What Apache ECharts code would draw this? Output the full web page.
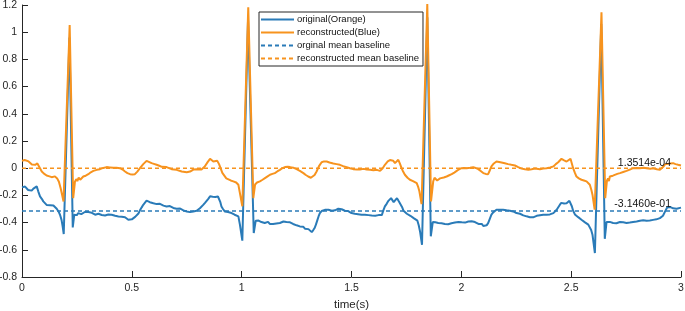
<!DOCTYPE html>
<html>
<head>
<meta charset="utf-8">
<script src="https://cdn.jsdelivr.net/npm/echarts@6/dist/echarts.min.js"></script>
<style>
  html, body { margin: 0; padding: 0; background: #fff; }
  #main { width: 685px; height: 311px; }
</style>
</head>
<body>
<div id="main"></div>
<script type="text/javascript">
  // original signal (drawn blue), [time, value]
  var originalPts = [
    [0, -0.141], [0.008, -0.15], [0.014, -0.135], [0.02, -0.148], [0.028, -0.16], [0.036, -0.152], [0.044, -0.165], [0.052, -0.15],
    [0.06, -0.142], [0.067, -0.134], [0.074, -0.17], [0.082, -0.207], [0.09, -0.225], [0.097, -0.244], [0.105, -0.255], [0.112, -0.27],
    [0.12, -0.281], [0.128, -0.272], [0.135, -0.28], [0.143, -0.274], [0.15, -0.288], [0.158, -0.298], [0.166, -0.318], [0.173, -0.342],
    [0.18, -0.38], [0.185, -0.428], [0.19, -0.484],
    [0.216, 0.96],
    [0.231, -0.435], [0.238, -0.342], [0.244, -0.33], [0.25, -0.345], [0.256, -0.33], [0.263, -0.325], [0.27, -0.338], [0.279, -0.333],
    [0.286, -0.322], [0.295, -0.33], [0.302, -0.322], [0.31, -0.335], [0.318, -0.328], [0.325, -0.333], [0.333, -0.342], [0.34, -0.33],
    [0.348, -0.335], [0.355, -0.333], [0.363, -0.344], [0.37, -0.336], [0.378, -0.348], [0.385, -0.342], [0.393, -0.34], [0.4, -0.35],
    [0.408, -0.342], [0.416, -0.345], [0.424, -0.35], [0.432, -0.343], [0.439, -0.355], [0.446, -0.35], [0.454, -0.357], [0.462, -0.352],
    [0.469, -0.361], [0.477, -0.372], [0.484, -0.379], [0.492, -0.37], [0.5, -0.376], [0.507, -0.365], [0.515, -0.358], [0.522, -0.345],
    [0.53, -0.333], [0.537, -0.31], [0.545, -0.288], [0.552, -0.269], [0.56, -0.255], [0.567, -0.239], [0.575, -0.245], [0.582, -0.25],
    [0.59, -0.252], [0.598, -0.258], [0.605, -0.255], [0.613, -0.264], [0.62, -0.268], [0.628, -0.262], [0.636, -0.27], [0.644, -0.275],
    [0.651, -0.27], [0.658, -0.281], [0.666, -0.285], [0.673, -0.278], [0.681, -0.288], [0.689, -0.292], [0.696, -0.29], [0.704, -0.298],
    [0.712, -0.302], [0.72, -0.297], [0.727, -0.305], [0.735, -0.31], [0.742, -0.305], [0.75, -0.318], [0.758, -0.31], [0.765, -0.323],
    [0.772, -0.312], [0.78, -0.318], [0.788, -0.31], [0.795, -0.313], [0.803, -0.305], [0.81, -0.295], [0.817, -0.281], [0.825, -0.27],
    [0.833, -0.255], [0.84, -0.244], [0.848, -0.225], [0.856, -0.207], [0.862, -0.215], [0.868, -0.21], [0.874, -0.222], [0.88, -0.212],
    [0.886, -0.22], [0.892, -0.208], [0.898, -0.215], [0.903, -0.25], [0.908, -0.281], [0.915, -0.3], [0.923, -0.318], [0.93, -0.325],
    [0.938, -0.322], [0.946, -0.336], [0.954, -0.33], [0.962, -0.34], [0.968, -0.342], [0.976, -0.338], [0.985, -0.354], [0.992, -0.415],
    [1.003, -0.533],
    [1.029, 1.09],
    [1.055, -0.477], [1.064, -0.386], [1.07, -0.392], [1.077, -0.385], [1.084, -0.398], [1.09, -0.396], [1.098, -0.39], [1.105, -0.403],
    [1.113, -0.403], [1.12, -0.395], [1.128, -0.41], [1.136, -0.402], [1.143, -0.41], [1.151, -0.4], [1.158, -0.406], [1.166, -0.396],
    [1.174, -0.403], [1.182, -0.398], [1.19, -0.392], [1.197, -0.402], [1.204, -0.396], [1.212, -0.404], [1.22, -0.398], [1.227, -0.41],
    [1.234, -0.41], [1.242, -0.415], [1.25, -0.42], [1.258, -0.418], [1.265, -0.428], [1.273, -0.435], [1.28, -0.43], [1.288, -0.445],
    [1.296, -0.452], [1.304, -0.448], [1.311, -0.462], [1.319, -0.47], [1.326, -0.455], [1.332, -0.44], [1.338, -0.415], [1.345, -0.38],
    [1.35, -0.355], [1.356, -0.33], [1.364, -0.315], [1.372, -0.31], [1.379, -0.306], [1.387, -0.318], [1.395, -0.305], [1.402, -0.312],
    [1.41, -0.313], [1.418, -0.305], [1.425, -0.31], [1.433, -0.298], [1.44, -0.298], [1.448, -0.308], [1.455, -0.302], [1.463, -0.316],
    [1.47, -0.313], [1.478, -0.32], [1.485, -0.315], [1.493, -0.325], [1.5, -0.33], [1.508, -0.322], [1.515, -0.335], [1.523, -0.33],
    [1.53, -0.338], [1.538, -0.33], [1.546, -0.342], [1.553, -0.335], [1.561, -0.342], [1.569, -0.338], [1.577, -0.345], [1.585, -0.336],
    [1.592, -0.348], [1.6, -0.342], [1.608, -0.35], [1.615, -0.338], [1.623, -0.345], [1.63, -0.338], [1.638, -0.345], [1.645, -0.31],
    [1.652, -0.281], [1.66, -0.262], [1.668, -0.24], [1.675, -0.228], [1.68, -0.22], [1.686, -0.235], [1.692, -0.25], [1.7, -0.236],
    [1.707, -0.22], [1.714, -0.24], [1.722, -0.25], [1.73, -0.285], [1.737, -0.313], [1.745, -0.325], [1.752, -0.335], [1.76, -0.342],
    [1.768, -0.35], [1.776, -0.358], [1.783, -0.367], [1.79, -0.372], [1.8, -0.386], [1.806, -0.42], [1.812, -0.465], [1.821, -0.563],
    [1.845, 1.11],
    [1.861, -0.501], [1.87, -0.396], [1.876, -0.402], [1.882, -0.398], [1.889, -0.41], [1.895, -0.403], [1.903, -0.41], [1.91, -0.405],
    [1.918, -0.415], [1.925, -0.41], [1.933, -0.42], [1.94, -0.412], [1.948, -0.415], [1.955, -0.405], [1.963, -0.412], [1.971, -0.4],
    [1.979, -0.403], [1.987, -0.395], [1.994, -0.405], [2.002, -0.398], [2.009, -0.41], [2.017, -0.4], [2.024, -0.405], [2.032, -0.392],
    [2.039, -0.396], [2.047, -0.39], [2.055, -0.4], [2.062, -0.396], [2.07, -0.402], [2.078, -0.41], [2.085, -0.415], [2.093, -0.41],
    [2.1, -0.425], [2.107, -0.435], [2.115, -0.42], [2.122, -0.404], [2.13, -0.37], [2.137, -0.342], [2.145, -0.325], [2.152, -0.312],
    [2.16, -0.306], [2.168, -0.315], [2.175, -0.305], [2.183, -0.31], [2.19, -0.306], [2.198, -0.316], [2.206, -0.31], [2.213, -0.318],
    [2.221, -0.313], [2.228, -0.322], [2.236, -0.318], [2.244, -0.33], [2.251, -0.33], [2.259, -0.338], [2.267, -0.335], [2.274, -0.345],
    [2.282, -0.347], [2.29, -0.342], [2.297, -0.354], [2.305, -0.35], [2.312, -0.36], [2.32, -0.352], [2.327, -0.361], [2.335, -0.355],
    [2.343, -0.35], [2.35, -0.352], [2.358, -0.346], [2.365, -0.35], [2.373, -0.342], [2.38, -0.345], [2.388, -0.342], [2.395, -0.335],
    [2.403, -0.34], [2.411, -0.33], [2.419, -0.33], [2.427, -0.318], [2.434, -0.305], [2.441, -0.298], [2.448, -0.27], [2.455, -0.255],
    [2.461, -0.249], [2.468, -0.26], [2.474, -0.265], [2.479, -0.258], [2.486, -0.25], [2.492, -0.24], [2.497, -0.244], [2.503, -0.28],
    [2.509, -0.313], [2.517, -0.34], [2.524, -0.354], [2.532, -0.36], [2.54, -0.372], [2.547, -0.379], [2.555, -0.385], [2.563, -0.398],
    [2.57, -0.403], [2.578, -0.415], [2.585, -0.428], [2.591, -0.455], [2.597, -0.489], [2.608, -0.624],
    [2.637, 1.06],
    [2.653, -0.519], [2.661, -0.396], [2.668, -0.402], [2.676, -0.395], [2.684, -0.405], [2.691, -0.403], [2.699, -0.395], [2.706, -0.405],
    [2.714, -0.398], [2.722, -0.396], [2.73, -0.405], [2.737, -0.398], [2.745, -0.404], [2.752, -0.403], [2.76, -0.395], [2.767, -0.4],
    [2.775, -0.39], [2.782, -0.396], [2.79, -0.388], [2.798, -0.392], [2.805, -0.385], [2.813, -0.386], [2.82, -0.392], [2.828, -0.382],
    [2.836, -0.388], [2.843, -0.386], [2.85, -0.378], [2.858, -0.384], [2.866, -0.378], [2.873, -0.38], [2.88, -0.372], [2.888, -0.376],
    [2.896, -0.368], [2.904, -0.367], [2.912, -0.36], [2.918, -0.35], [2.922, -0.342], [2.93, -0.31], [2.937, -0.289], [2.944, -0.295],
    [2.95, -0.285], [2.957, -0.282], [2.964, -0.295], [2.972, -0.29], [2.98, -0.298], [2.988, -0.292], [3.0, -0.29]
  ];

  // reconstructed signal (drawn orange), [time, value]
  var reconPts = [
    [0, 0.054], [0.012, 0.06], [0.021, 0.068], [0.03, 0.05], [0.045, 0.028], [0.06, 0.025], [0.07, 0.035], [0.078, 0.04],
    [0.09, -0.024], [0.1, -0.04], [0.112, -0.054], [0.125, -0.06], [0.135, -0.066], [0.15, -0.06], [0.16, -0.075], [0.168, -0.1],
    [0.176, -0.147], [0.183, -0.2], [0.189, -0.245],
    [0.217, 1.053],
    [0.233, -0.22], [0.241, -0.1], [0.247, -0.08], [0.252, -0.095], [0.258, -0.07], [0.265, -0.085], [0.279, -0.061], [0.29, -0.055],
    [0.302, -0.044], [0.313, -0.03], [0.325, -0.02], [0.34, -0.012], [0.355, -0.007], [0.37, 0.002], [0.385, 0.008], [0.4, 0.006],
    [0.416, 0.003], [0.43, 0.004], [0.446, 0], [0.458, -0.01], [0.469, -0.024], [0.48, -0.036], [0.492, -0.044], [0.503, -0.046],
    [0.514, -0.044], [0.525, -0.025], [0.537, 0], [0.552, 0.03], [0.567, 0.054], [0.58, 0.045], [0.59, 0.037], [0.6, 0.032],
    [0.613, 0.025], [0.625, 0.018], [0.636, 0.01], [0.658, 0.008], [0.681, -0.007], [0.704, -0.012], [0.727, -0.024], [0.75, -0.029],
    [0.765, -0.025], [0.772, -0.02], [0.78, -0.01], [0.795, -0.007], [0.817, -0.01], [0.832, 0.013], [0.845, 0.045], [0.856, 0.069],
    [0.864, 0.058], [0.871, 0.049], [0.88, 0.052], [0.889, 0.054], [0.897, 0.03], [0.904, 0], [0.912, -0.035], [0.917, -0.048],
    [0.93, -0.075], [0.939, -0.085], [0.95, -0.09], [0.962, -0.097], [0.975, -0.105], [0.985, -0.122], [0.992, -0.183], [1.003, -0.28],
    [1.030, 1.183],
    [1.053, -0.22], [1.061, -0.12], [1.07, -0.105], [1.083, -0.097], [1.095, -0.085], [1.106, -0.073], [1.118, -0.06], [1.129, -0.048],
    [1.14, -0.042], [1.151, -0.036], [1.162, -0.024], [1.174, -0.012], [1.185, 0], [1.197, 0.008], [1.21, 0.01], [1.22, 0.008],
    [1.235, 0.004], [1.25, -0.007], [1.265, -0.02], [1.281, -0.036], [1.292, -0.05], [1.303, -0.061], [1.315, -0.07], [1.323, -0.073],
    [1.332, -0.05], [1.341, -0.024], [1.352, 0.015], [1.364, 0.044], [1.375, 0.05], [1.387, 0.049], [1.4, 0.042], [1.417, 0.035],
    [1.432, 0.03], [1.447, 0.025], [1.462, 0.015], [1.478, 0.008], [1.493, 0], [1.508, -0.007], [1.525, -0.01], [1.538, -0.01],
    [1.555, -0.005], [1.569, -0.01], [1.585, -0.012], [1.6, -0.015], [1.615, -0.012], [1.63, -0.02], [1.642, 0], [1.652, 0.025],
    [1.665, 0.05], [1.675, 0.06], [1.683, 0.069], [1.69, 0.055], [1.698, 0.037], [1.705, 0.05], [1.713, 0.062], [1.72, 0.035],
    [1.728, 0], [1.735, -0.025], [1.743, -0.048], [1.755, -0.07], [1.766, -0.085], [1.78, -0.095], [1.797, -0.11], [1.803, -0.135],
    [1.809, -0.17], [1.819, -0.264],
    [1.845, 1.207],
    [1.862, -0.244], [1.872, -0.097], [1.878, -0.07], [1.884, -0.06], [1.89, -0.09], [1.895, -0.097], [1.903, -0.075], [1.91, -0.073],
    [1.92, -0.068], [1.933, -0.061], [1.945, -0.052], [1.956, -0.044], [1.968, -0.032], [1.979, -0.02], [1.99, -0.008], [2.0, 0],
    [2.012, 0.002], [2.024, 0], [2.04, 0.004], [2.054, 0.008], [2.065, 0.002], [2.077, -0.007], [2.088, -0.02], [2.1, -0.036],
    [2.111, -0.042], [2.122, -0.044], [2.13, -0.015], [2.137, 0.013], [2.148, 0.035], [2.16, 0.049], [2.172, 0.046], [2.183, 0.042],
    [2.198, 0.036], [2.213, 0.03], [2.228, 0.025], [2.244, 0.02], [2.259, 0.008], [2.274, -0.003], [2.29, -0.008], [2.305, -0.012],
    [2.32, -0.008], [2.335, -0.002], [2.358, -0.007], [2.373, -0.003], [2.388, 0], [2.405, 0.005], [2.419, 0.013], [2.43, 0.03],
    [2.441, 0.044], [2.456, 0.069], [2.468, 0.058], [2.479, 0.049], [2.488, 0.06], [2.497, 0.069], [2.503, 0.035], [2.509, 0],
    [2.517, -0.035], [2.524, -0.061], [2.535, -0.075], [2.547, -0.085], [2.558, -0.09], [2.57, -0.097], [2.585, -0.122], [2.592, -0.16],
    [2.597, -0.195], [2.607, -0.305],
    [2.638, 1.146],
    [2.655, -0.22], [2.663, -0.09], [2.668, -0.075], [2.672, -0.095], [2.676, -0.061], [2.682, -0.07], [2.69, -0.055], [2.699, -0.048],
    [2.71, -0.042], [2.722, -0.036], [2.737, -0.028], [2.752, -0.02], [2.767, -0.01], [2.782, 0], [2.8, 0.002], [2.813, 0],
    [2.83, 0.003], [2.843, 0], [2.86, -0.004], [2.873, 0], [2.89, -0.008], [2.904, -0.012], [2.912, -0.005], [2.919, 0.01],
    [2.927, 0.028], [2.934, 0.037], [2.95, 0.035], [2.964, 0.037], [2.975, 0.03], [2.987, 0.025], [3.0, 0.02]
  ];

  var originalMean = -0.3146;
  var reconMean = 0.00013514;
  var meanTexts = ['-3.1460e-01', '1.3514e-04'];
  var seriesNames = ['original(Orange)', 'reconstructed(Blue)', 'orginal mean baseline', 'reconstructed mean baseline'];
  var tStart = 0, tEnd = 3;

  var blue = '#2a7bb8';
  var orange = '#f7931e';
  var axisColor = '#262626';
  var font = 'Liberation Sans, Helvetica, Arial, sans-serif';

  var chart = echarts.init(document.getElementById('main'));

  var option = {
    animation: false,
    backgroundColor: '#fff',
    grid: { left: 22, right: 4, top: 5, bottom: 34, containLabel: false, outerBoundsMode: 'none' },
    legend: {
      orient: 'vertical',
      left: 259,
      top: 12,
      padding: [1, 4, 1, 1],
      itemGap: 0,
      itemWidth: 33,
      itemHeight: 13,
      backgroundColor: '#fff',
      borderColor: axisColor,
      borderWidth: 1,
      borderRadius: 0,
      itemStyle: { opacity: 0 },
      textStyle: { fontFamily: font, fontSize: 9.5, color: '#111', lineHeight: 13, padding: [0, 0, 0, -2] },
      data: seriesNames
    },
    xAxis: {
      type: 'value',
      min: tStart,
      max: tEnd,
      interval: 0.5,
      name: 'time(s)',
      nameLocation: 'middle',
      nameGap: 19,
      nameTextStyle: { fontFamily: font, fontSize: 11.5, color: axisColor },
      axisLine: { show: true, onZero: false, lineStyle: { color: axisColor, width: 1 } },
      axisTick: { show: true, inside: true, length: 6, lineStyle: { color: axisColor } },
      axisLabel: { margin: 6, fontFamily: font, fontSize: 10.5, color: axisColor },
      splitLine: { show: false }
    },
    yAxis: {
      type: 'value',
      min: -0.8,
      max: 1.2,
      interval: 0.2,
      axisLine: { show: true, lineStyle: { color: axisColor, width: 1 } },
      axisTick: { show: true, inside: true, length: 6, lineStyle: { color: axisColor } },
      axisLabel: { margin: 5, fontFamily: font, fontSize: 10.5, color: axisColor },
      splitLine: { show: false }
    },
    series: [
      {
        name: seriesNames[0],
        type: 'line',
        symbol: 'none',
        lineStyle: { color: blue, width: 2 },
        itemStyle: { color: blue },
        data: originalPts
      },
      {
        name: seriesNames[1],
        type: 'line',
        symbol: 'none',
        lineStyle: { color: orange, width: 2 },
        itemStyle: { color: orange },
        data: reconPts
      },
      {
        name: seriesNames[2],
        type: 'line',
        symbol: 'none',
        lineStyle: { color: blue, width: 1.4, type: [4, 3] },
        itemStyle: { color: blue },
        data: [[tStart, originalMean], [tEnd, originalMean]]
      },
      {
        name: seriesNames[3],
        type: 'line',
        symbol: 'none',
        lineStyle: { color: orange, width: 1.4, type: [4, 3] },
        itemStyle: { color: orange },
        data: [[tStart, reconMean], [tEnd, reconMean]]
      }
    ]
  };
  chart.setOption(option);

  // mean value texts placed just above each baseline, near the right end
  var pOrig = chart.convertToPixel({ gridIndex: 0 }, [tEnd, originalMean]);
  var pRecon = chart.convertToPixel({ gridIndex: 0 }, [tEnd, reconMean]);
  chart.setOption({
    graphic: [
      {
        type: 'text', x: pOrig[0] - 10, y: pOrig[1] - 1, z: 100,
        style: { text: meanTexts[0], fill: '#111', font: '10.5px ' + font, textAlign: 'right', textVerticalAlign: 'bottom' }
      },
      {
        type: 'text', x: pRecon[0] - 10, y: pRecon[1] - 0, z: 100,
        style: { text: meanTexts[1], fill: '#111', font: '10.5px ' + font, textAlign: 'right', textVerticalAlign: 'bottom' }
      }
    ]
  });
</script>
</body>
</html>
